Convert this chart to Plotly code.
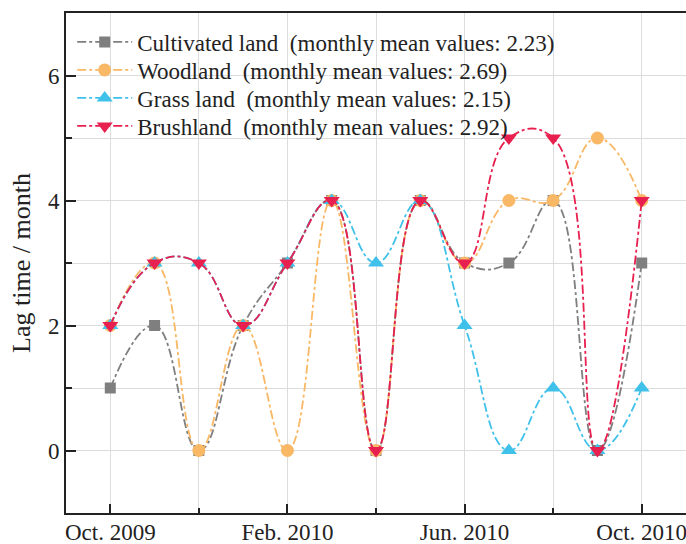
import plotly.graph_objects as go

months = ["Oct. 2009", "Nov. 2009", "Dec. 2009", "Jan. 2010", "Feb. 2010", "Mar. 2010",
          "Apr. 2010", "May. 2010", "Jun. 2010", "Jul. 2010", "Aug. 2010", "Sep. 2010", "Oct. 2010"]
month_idx = list(range(len(months)))

cultivated = [1, 2, 0, 2, 3, 4, 0, 4, 3, 3, 4, 0, 3]
woodland = [2, 3, 0, 2, 0, 4, 0, 4, 3, 4, 4, 5, 4]
grassland = [2, 3, 3, 2, 3, 4, 3, 4, 2, 0, 1, 0, 1]
brushland = [2, 3, 3, 2, 3, 4, 0, 4, 3, 5, 5, 0, 4]

names = ["Cultivated land", "Woodland", "Grass land", "Brushland"]
series = [cultivated, woodland, grassland, brushland]
colors = ["#7f7f7f", "#f9b865", "#3fc1ea", "#e8204f"]
symbols = ["square", "circle", "triangle-up", "triangle-down"]
sizes = [11, 13, 14, 14]

tick_pos = [0, 4, 8, 12]
tick_text = [months[i] for i in tick_pos]

# layout geometry (pixels)
W, H = 686, 544
ML, MR, MT, MB = 66, 0, 13, 31
plot_h = H - MT - MB
legend_rows_px = [42, 70, 98, 126]
legend_keys = ["legend", "legend2", "legend3", "legend4"]

font = "Liberation Serif, Times New Roman, serif"
axis_col = "#222222"
grid_col = "#dcdcdc"

fig = go.Figure()
for n, s, c, sym, sz, lk in zip(names, series, colors, symbols, sizes, legend_keys):
    mean = sum(s) / len(s)
    fig.add_trace(go.Scatter(
        x=month_idx, y=s, mode="lines+markers",
        name=f"{n}\u00a0 (monthly mean values: {mean:.2f})",
        legend=lk,
        line=dict(color=c, width=1.8, dash="dashdot", shape="spline", smoothing=1.3),
        marker=dict(color=c, symbol=sym, size=sz),
    ))

legend_layout = {}
for lk, py in zip(legend_keys, legend_rows_px):
    legend_layout[lk] = dict(
        x=0.01, y=1 - (py - MT) / plot_h, xanchor="left", yanchor="middle",
        bgcolor="rgba(0,0,0,0)", font=dict(size=23, family=font, color=axis_col),
        itemwidth=55, borderwidth=0,
    )

fig.update_layout(
    width=W, height=H,
    margin=dict(l=ML, r=MR, t=MT, b=MB),
    paper_bgcolor="white", plot_bgcolor="white",
    font=dict(family=font, size=23, color=axis_col),
    showlegend=True,
    xaxis=dict(range=[-1, 13], tickvals=tick_pos, ticktext=tick_text, automargin=False,
               ticklabeloverflow="allow", ticklabelstandoff=-3,
               showline=True, linecolor=axis_col, linewidth=2, mirror=True,
               ticks="inside", ticklen=9, tickwidth=1.5, tickcolor=axis_col, showgrid=True,
               gridcolor=grid_col, gridwidth=1, zeroline=False,
               tickfont=dict(size=23),
               minor=dict(dtick=2, tick0=0, ticks="inside", ticklen=5, tickwidth=1.5,
                          showgrid=True, gridcolor=grid_col, tickcolor=axis_col)),
    yaxis=dict(range=[-1, 7], tickvals=[0, 2, 4, 6], automargin=False,
               ticklabeloverflow="allow",
               title=dict(text="Lag time / month", standoff=10,
                          font=dict(size=26, family=font, color=axis_col)),
               showline=True, linecolor=axis_col, linewidth=2, mirror=True,
               ticks="inside", ticklen=10, tickwidth=1.5, tickcolor=axis_col, showgrid=True,
               gridcolor=grid_col, gridwidth=1, zeroline=False,
               tickfont=dict(size=23),
               minor=dict(dtick=1, tick0=0, ticks="inside", ticklen=6, tickwidth=1.5,
                          showgrid=True, gridcolor=grid_col, tickcolor=axis_col)),
    **legend_layout,
)

fig.write_html("out.html")
